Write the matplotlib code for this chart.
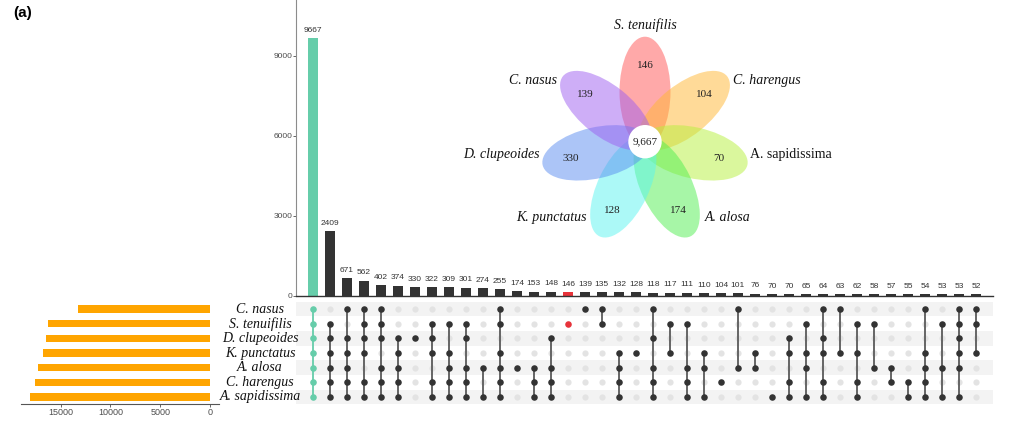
import numpy as np
import matplotlib.pyplot as plt
from matplotlib.patches import Ellipse, Circle
from matplotlib.transforms import blended_transform_factory

# Insiemi (righe della matrice, dall'alto in basso)
sets = ['C. nasus', 'S. tenuifilis', 'D. clupeoides', 'K. punctatus',
        'A. alosa', 'C. harengus', 'A. sapidissima']
set_sizes = [13300, 16300, 16500, 16800, 17300, 17600, 18100]

# Intersezioni: dimensione e righe coinvolte
counts = [9667, 2409, 671, 562, 402, 374, 330, 322, 309, 301, 274, 255, 174, 153,
          148, 146, 139, 135, 132, 128, 118, 117, 111, 110, 104, 101, 76, 70, 70,
          65, 64, 63, 62, 58, 57, 55, 54, 53, 53, 52]
members = [
    [0, 1, 2, 3, 4, 5, 6], [1, 2, 3, 4, 5, 6], [0, 2, 3, 4, 5, 6], [0, 1, 2, 3, 5, 6],
    [0, 1, 2, 4, 5, 6], [2, 3, 4, 5, 6], [2], [1, 2, 3, 5, 6], [1, 3, 4, 5, 6],
    [1, 2, 4, 5, 6], [4, 6], [0, 1, 3, 4, 5, 6], [4], [4, 5, 6], [2, 4, 5, 6], [1],
    [0], [0, 1], [3, 4, 5, 6], [3], [0, 2, 4, 5, 6], [1, 3], [1, 4, 5, 6], [3, 4, 6],
    [5], [0, 4], [3, 4], [6], [2, 3, 5, 6], [1, 3, 4, 6], [0, 2, 3, 5, 6], [0, 3],
    [1, 3, 5, 6], [1, 4], [4, 5], [5, 6], [0, 3, 4, 5, 6], [1, 4, 6],
    [0, 1, 2, 3, 4, 6], [0, 1, 3],
]

# Fiore: petali in senso orario a partire dall'alto
petal_names = ['S. tenuifilis', 'C. harengus', 'A. sapidissima', 'A. alosa',
               'K. punctatus', 'D. clupeoides', 'C. nasus']
petal_unique = [146, 104, 70, 174, 128, 330, 139]
core_count = 9667

GREEN = '#66CDAA'
RED = '#E8333A'
DARK = '#333333'

W, H = 1014, 422
fig = plt.figure(figsize=(W / 100, H / 100), dpi=100)


def px_axes(x0, y0, x1, y1):
    return fig.add_axes([x0 / W, 1 - y1 / H, (x1 - x0) / W, (y1 - y0) / H])


n = len(counts)
xs = np.arange(n)
col_colors = [GREEN if i == 0 else (RED if counts[i] == 146 and members[i] == [1] else DARK)
              for i in range(n)]

# --- barre delle intersezioni ---
ax_bar = px_axes(296.3, 0, 993, 295.7)
ax_bar.bar(xs, counts, width=0.62, color=col_colors)
for x, v in zip(xs, counts):
    ax_bar.text(x, v + 160, str(v), ha='center', va='bottom', fontsize=6,
                color=DARK, family='Liberation Sans')
ax_bar.set_xlim(-0.97, n)
ax_bar.set_ylim(0, 11090)
ax_bar.set_yticks([0, 3000, 6000, 9000])
ax_bar.set_xticks([])
ax_bar.tick_params(axis='y', labelsize=6, colors='#4D4D4D', length=2, width=0.6,
                   pad=1)
for lab in ax_bar.get_yticklabels():
    lab.set_family('Liberation Sans')
ax_bar.spines[['top', 'right']].set_visible(False)
ax_bar.spines['left'].set_color('#8C8C8C')
ax_bar.spines['left'].set_linewidth(0.8)
ax_bar.spines['bottom'].set_color(DARK)
ax_bar.spines['bottom'].set_linewidth(1.0)

# --- matrice ---
ax_mat = px_axes(296.3, 301.7, 993, 404.3)
ax_mat.set_xlim(-0.97, n)
ax_mat.set_ylim(6.5, -0.5)
for r in range(0, 7, 2):
    ax_mat.axhspan(r - 0.5, r + 0.5, color='#F3F3F3', lw=0)
gx, gy = np.meshgrid(xs, np.arange(7))
ax_mat.scatter(gx.ravel(), gy.ravel(), s=20, color='#E3E3E3', lw=0, zorder=2)
for x, m, c in zip(xs, members, col_colors):
    line_c = GREEN if c == GREEN else '#5A5A5A'
    if len(m) > 1:
        ax_mat.plot([x, x], [min(m), max(m)], color=line_c, lw=1.3, zorder=3)
    ax_mat.scatter([x] * len(m), m, s=22, color=c, lw=0, zorder=4)
ax_mat.axis('off')

# --- dimensioni degli insiemi ---
ax_set = px_axes(21, 301.7, 219, 404.3)
ax_set.barh(np.arange(7), set_sizes, height=0.5, color='#FFA500')
ax_set.set_ylim(6.5, -0.5)
ax_set.set_xlim(18970, -900)
ax_set.set_xticks([15000, 10000, 5000, 0])
ax_set.set_yticks([])
ax_set.tick_params(axis='x', labelsize=6.5, colors='#4D4D4D', length=2, width=0.6,
                   pad=1)
for lab in ax_set.get_xticklabels():
    lab.set_family('Liberation Sans')
ax_set.spines[['top', 'right', 'left']].set_visible(False)
ax_set.spines['bottom'].set_color('#555555')
ax_set.spines['bottom'].set_linewidth(0.8)

# nomi degli insiemi
trans = blended_transform_factory(fig.transFigure, ax_mat.transData)
for i, name in enumerate(sets):
    fig.text(260 / W, i, name, transform=trans, ha='center', va='center',
             fontsize=10, style='italic', family='Liberation Serif', color='#111111')

# --- fiore (sovrapposto) ---
ax_v = fig.add_axes([0, 0, 1, 1])
ax_v.set_xlim(0, W)
ax_v.set_ylim(0, H)
ax_v.set_facecolor('none')
ax_v.axis('off')

cx, cy = 645, H - 141.7
petal_colors = ['#FF5555', '#FFB733', '#B7F03C', '#50EE50', '#5AF5F0', '#5A8CF0', '#9E5FF0']
label_offsets = [(0, 117, 'center'), (88, 61, 'left'), (105, -13, 'left'),
                 (60, -76, 'left'), (-58, -76, 'right'), (-105, -13, 'right'),
                 (-88, 61, 'right')]
for k in range(7):
    ang = 90 - k * 360 / 7
    a = np.deg2rad(ang)
    ax_v.add_patch(Ellipse((cx + 50 * np.cos(a), cy + 50 * np.sin(a)), 110, 51,
                           angle=ang, color=petal_colors[k], alpha=0.5, lw=0))
    ax_v.text(cx + 76 * np.cos(a), cy + 76 * np.sin(a), str(petal_unique[k]),
              ha='center', va='center', fontsize=8, family='Liberation Serif',
              color='#222222')
    dx, dy, ha = label_offsets[k]
    style = 'normal' if petal_names[k] == 'A. sapidissima' else 'italic'
    ax_v.text(cx + dx, cy + dy, petal_names[k], ha=ha, va='center', fontsize=10,
              style=style, family='Liberation Serif', color='#111111')
ax_v.add_patch(Circle((cx, cy), 16.7, color='white', lw=0))
ax_v.text(cx, cy, f'{core_count:,}', ha='center', va='center', fontsize=8,
          family='Liberation Serif', color='#222222')

ax_v.text(13, H - 13, '(a)', ha='left', va='center', fontsize=11, weight='bold',
          family='Liberation Sans')

fig.savefig('out.png', dpi=100)
